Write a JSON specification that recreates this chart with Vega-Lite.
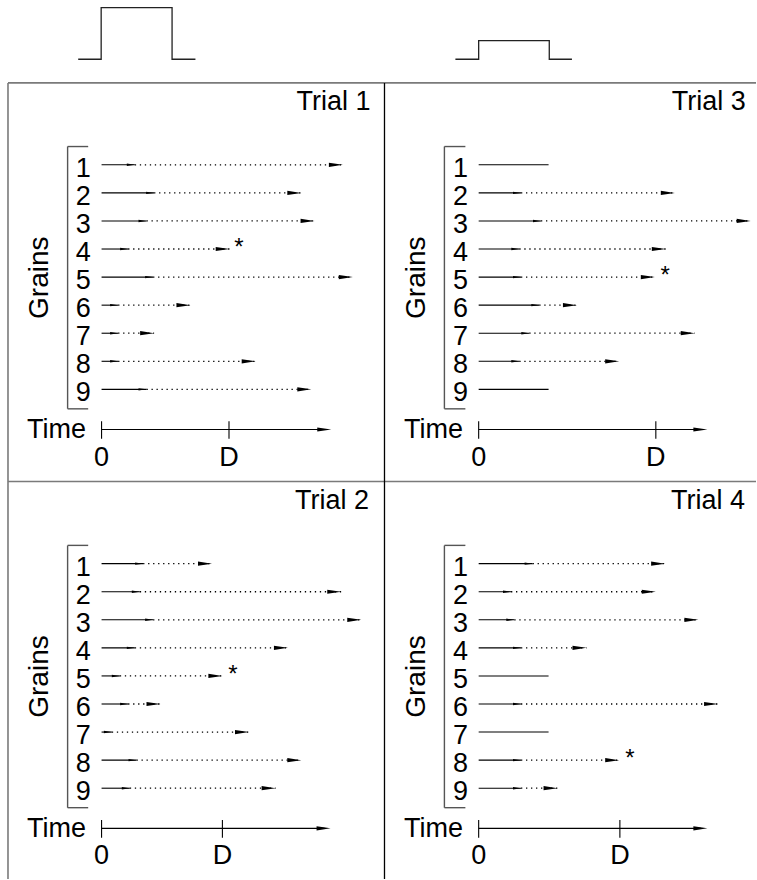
{
  "$schema": "https://vega.github.io/schema/vega-lite/v6.json",
  "width": 757,
  "height": 880,
  "padding": 0,
  "autosize": {"type": "fit", "contains": "padding"},
  "background": "white",
  "config": {"view": {"stroke": null}, "text": {"font": "Liberation Sans", "color": "black"}},
  "datasets": {
    "pulses": [
      {"p": "strong", "k": 1, "x": 78.3, "y": 59.3},
      {"p": "strong", "k": 2, "x": 101.3, "y": 59.3},
      {"p": "strong", "k": 3, "x": 101.3, "y": 7.7},
      {"p": "strong", "k": 4, "x": 172.3, "y": 7.7},
      {"p": "strong", "k": 5, "x": 172.3, "y": 59.3},
      {"p": "strong", "k": 6, "x": 195.7, "y": 59.3},
      {"p": "weak", "k": 1, "x": 456, "y": 59.3},
      {"p": "weak", "k": 2, "x": 479.3, "y": 59.3},
      {"p": "weak", "k": 3, "x": 479.3, "y": 40.7},
      {"p": "weak", "k": 4, "x": 550, "y": 40.7},
      {"p": "weak", "k": 5, "x": 550, "y": 59.3},
      {"p": "weak", "k": 6, "x": 572.7, "y": 59.3}
    ],
    "segs": [
      {"part": "frame", "x": 8, "x2": 757, "y": 83, "y2": 83},
      {"part": "frame", "x": 8, "x2": 8, "y": 83, "y2": 880},
      {"part": "frame", "x": 8, "x2": 757, "y": 482, "y2": 482},
      {"part": "divider", "x": 385, "x2": 385, "y": 83, "y2": 880},
      {"part": "bracket", "x": 67.7, "x2": 67.7, "y": 146.7, "y2": 409.3},
      {"part": "bracket", "x": 67.7, "x2": 88.3, "y": 146.7, "y2": 146.7},
      {"part": "bracket", "x": 67.7, "x2": 88.3, "y": 409.3, "y2": 409.3},
      {"part": "bracket", "x": 445, "x2": 445, "y": 146.7, "y2": 409.3},
      {"part": "bracket", "x": 445, "x2": 466, "y": 146.7, "y2": 146.7},
      {"part": "bracket", "x": 445, "x2": 466, "y": 409.3, "y2": 409.3},
      {"part": "bracket", "x": 67.7, "x2": 67.7, "y": 546, "y2": 808.6},
      {"part": "bracket", "x": 67.7, "x2": 88.3, "y": 546, "y2": 546},
      {"part": "bracket", "x": 67.7, "x2": 88.3, "y": 808.6, "y2": 808.6},
      {"part": "bracket", "x": 445, "x2": 445, "y": 546, "y2": 808.6},
      {"part": "bracket", "x": 445, "x2": 466, "y": 546, "y2": 546},
      {"part": "bracket", "x": 445, "x2": 466, "y": 808.6, "y2": 808.6},
      {"part": "axis", "x": 101.7, "x2": 325, "y": 430, "y2": 430},
      {"part": "axis", "x": 101.7, "x2": 101.7, "y": 421.7, "y2": 439.3},
      {"part": "axis", "x": 229.3, "x2": 229.3, "y": 421.7, "y2": 439.3},
      {"part": "axis", "x": 479.3, "x2": 702, "y": 430, "y2": 430},
      {"part": "axis", "x": 479.3, "x2": 479.3, "y": 421.7, "y2": 439.3},
      {"part": "axis", "x": 656.7, "x2": 656.7, "y": 421.7, "y2": 439.3},
      {"part": "axis", "x": 101.7, "x2": 325, "y": 829.3, "y2": 829.3},
      {"part": "axis", "x": 101.7, "x2": 101.7, "y": 821, "y2": 838.6},
      {"part": "axis", "x": 222.7, "x2": 222.7, "y": 821, "y2": 838.6},
      {"part": "axis", "x": 479.3, "x2": 702, "y": 829.3, "y2": 829.3},
      {"part": "axis", "x": 479.3, "x2": 479.3, "y": 821, "y2": 838.6},
      {"part": "axis", "x": 620.7, "x2": 620.7, "y": 821, "y2": 838.6}
    ],
    "axisTips": [
      {"trial": "Trial 1", "x": 331.7, "y": 430},
      {"trial": "Trial 3", "x": 708.3, "y": 430},
      {"trial": "Trial 2", "x": 331, "y": 829.3},
      {"trial": "Trial 4", "x": 708.3, "y": 829.3}
    ],
    "rows": [
      {"trial": "Trial 1", "grain": "1", "lx": 83.3, "x": 101.7, "x2": 135, "head": 135, "tip": 343.3, "y": 165},
      {"trial": "Trial 1", "grain": "2", "lx": 83.3, "x": 101.7, "x2": 154.3, "head": 154.3, "tip": 301.7, "y": 193.1},
      {"trial": "Trial 1", "grain": "3", "lx": 83.3, "x": 101.7, "x2": 146.7, "head": 146.7, "tip": 315, "y": 221.2},
      {"trial": "Trial 1", "grain": "4", "lx": 83.3, "x": 101.7, "x2": 128.3, "head": 128.3, "tip": 230, "y": 249.3},
      {"trial": "Trial 1", "grain": "5", "lx": 83.3, "x": 101.7, "x2": 153.3, "head": 153.3, "tip": 353.3, "y": 277.4},
      {"trial": "Trial 1", "grain": "6", "lx": 83.3, "x": 101.7, "x2": 118.3, "head": 118.3, "tip": 190.7, "y": 305.5},
      {"trial": "Trial 1", "grain": "7", "lx": 83.3, "x": 101.7, "x2": 118.3, "head": 118.3, "tip": 154.3, "y": 333.6},
      {"trial": "Trial 1", "grain": "8", "lx": 83.3, "x": 101.7, "x2": 118.3, "head": 118.3, "tip": 256, "y": 361.7},
      {"trial": "Trial 1", "grain": "9", "lx": 83.3, "x": 101.7, "x2": 146.7, "head": 146.7, "tip": 311.7, "y": 389.8},
      {"trial": "Trial 3", "grain": "1", "lx": 461, "x": 479.3, "x2": 549.3, "head": null, "tip": null, "y": 165},
      {"trial": "Trial 3", "grain": "2", "lx": 461, "x": 479.3, "x2": 521.7, "head": 521.7, "tip": 675.7, "y": 193.1},
      {"trial": "Trial 3", "grain": "3", "lx": 461, "x": 479.3, "x2": 541.7, "head": 541.7, "tip": 751.7, "y": 221.2},
      {"trial": "Trial 3", "grain": "4", "lx": 461, "x": 479.3, "x2": 520, "head": 520, "tip": 666.7, "y": 249.3},
      {"trial": "Trial 3", "grain": "5", "lx": 461, "x": 479.3, "x2": 521.7, "head": 521.7, "tip": 655.7, "y": 277.4},
      {"trial": "Trial 3", "grain": "6", "lx": 461, "x": 479.3, "x2": 540, "head": 540, "tip": 577.7, "y": 305.5},
      {"trial": "Trial 3", "grain": "7", "lx": 461, "x": 479.3, "x2": 530, "head": 530, "tip": 695.7, "y": 333.6},
      {"trial": "Trial 3", "grain": "8", "lx": 461, "x": 479.3, "x2": 520, "head": 520, "tip": 620, "y": 361.7},
      {"trial": "Trial 3", "grain": "9", "lx": 461, "x": 479.3, "x2": 549.3, "head": null, "tip": null, "y": 389.8},
      {"trial": "Trial 2", "grain": "1", "lx": 83.3, "x": 101.7, "x2": 143.3, "head": 143.3, "tip": 212.3, "y": 564.3},
      {"trial": "Trial 2", "grain": "2", "lx": 83.3, "x": 101.7, "x2": 140, "head": 140, "tip": 341.7, "y": 592.4},
      {"trial": "Trial 2", "grain": "3", "lx": 83.3, "x": 101.7, "x2": 153.3, "head": 153.3, "tip": 361.7, "y": 620.5},
      {"trial": "Trial 2", "grain": "4", "lx": 83.3, "x": 101.7, "x2": 135, "head": 135, "tip": 288.3, "y": 648.6},
      {"trial": "Trial 2", "grain": "5", "lx": 83.3, "x": 101.7, "x2": 120, "head": 120, "tip": 222.7, "y": 676.7},
      {"trial": "Trial 2", "grain": "6", "lx": 83.3, "x": 101.7, "x2": 128.3, "head": 128.3, "tip": 160.7, "y": 704.8},
      {"trial": "Trial 2", "grain": "7", "lx": 83.3, "x": 101.7, "x2": 112, "head": 112, "tip": 249.3, "y": 732.9},
      {"trial": "Trial 2", "grain": "8", "lx": 83.3, "x": 101.7, "x2": 136.7, "head": 136.7, "tip": 301.7, "y": 761},
      {"trial": "Trial 2", "grain": "9", "lx": 83.3, "x": 101.7, "x2": 130, "head": 130, "tip": 276, "y": 789.1},
      {"trial": "Trial 4", "grain": "1", "lx": 461, "x": 479.3, "x2": 533.3, "head": 533.3, "tip": 666, "y": 564.3},
      {"trial": "Trial 4", "grain": "2", "lx": 461, "x": 479.3, "x2": 511.7, "head": 511.7, "tip": 656.7, "y": 592.4},
      {"trial": "Trial 4", "grain": "3", "lx": 461, "x": 479.3, "x2": 515, "head": 515, "tip": 699.3, "y": 620.5},
      {"trial": "Trial 4", "grain": "4", "lx": 461, "x": 479.3, "x2": 521.7, "head": 521.7, "tip": 587.3, "y": 648.6},
      {"trial": "Trial 4", "grain": "5", "lx": 461, "x": 479.3, "x2": 549.3, "head": null, "tip": null, "y": 676.7},
      {"trial": "Trial 4", "grain": "6", "lx": 461, "x": 479.3, "x2": 521.7, "head": 521.7, "tip": 719, "y": 704.8},
      {"trial": "Trial 4", "grain": "7", "lx": 461, "x": 479.3, "x2": 549.3, "head": null, "tip": null, "y": 732.9},
      {"trial": "Trial 4", "grain": "8", "lx": 461, "x": 479.3, "x2": 521.7, "head": 521.7, "tip": 620, "y": 761},
      {"trial": "Trial 4", "grain": "9", "lx": 461, "x": 479.3, "x2": 521.7, "head": 521.7, "tip": 558.3, "y": 789.1}
    ],
    "labels": [
      {"role": "title", "text": "Trial 1", "x": 371, "y": 102.5},
      {"role": "title", "text": "Trial 3", "x": 746.7, "y": 102.5},
      {"role": "title", "text": "Trial 2", "x": 369.5, "y": 502},
      {"role": "title", "text": "Trial 4", "x": 746, "y": 502},
      {"role": "grains", "text": "Grains", "x": 40, "y": 278},
      {"role": "grains", "text": "Grains", "x": 417.5, "y": 278},
      {"role": "grains", "text": "Grains", "x": 40, "y": 677.3},
      {"role": "grains", "text": "Grains", "x": 417.5, "y": 677.3},
      {"role": "center", "text": "Time", "x": 56.5, "y": 430.5},
      {"role": "center", "text": "Time", "x": 434, "y": 430.5},
      {"role": "center", "text": "Time", "x": 56.5, "y": 829.8},
      {"role": "center", "text": "Time", "x": 434, "y": 829.8},
      {"role": "center", "text": "0", "x": 101.7, "y": 458.2},
      {"role": "center", "text": "D", "x": 229.3, "y": 458.2},
      {"role": "center", "text": "0", "x": 479.3, "y": 458.2},
      {"role": "center", "text": "D", "x": 656.7, "y": 458.2},
      {"role": "center", "text": "0", "x": 101.7, "y": 857.2},
      {"role": "center", "text": "D", "x": 222.7, "y": 857.2},
      {"role": "center", "text": "0", "x": 479.3, "y": 857.2},
      {"role": "center", "text": "D", "x": 620.7, "y": 857.2},
      {"role": "star", "text": "*", "x": 239.3, "y": 255.5},
      {"role": "star", "text": "*", "x": 666, "y": 283.2},
      {"role": "star", "text": "*", "x": 233.3, "y": 682.5},
      {"role": "star", "text": "*", "x": 630.7, "y": 767.2}
    ]
  },
  "encoding": {
    "x": {"field": "x", "type": "quantitative", "scale": {"domain": [0, 757], "nice": false, "zero": false}, "axis": null},
    "y": {"field": "y", "type": "quantitative", "scale": {"domain": [0, 880], "nice": false, "zero": false, "reverse": true}, "axis": null}
  },
  "layer": [
    {
      "data": {"name": "pulses"},
      "mark": {"type": "line", "color": "#222222", "strokeWidth": 1.3, "interpolate": "linear"},
      "encoding": {"detail": {"field": "p"}, "order": {"field": "k", "type": "quantitative"}}
    },
    {
      "data": {"name": "segs"},
      "transform": [{"filter": "datum.part === 'frame'"}],
      "mark": {"type": "rule", "color": "#7a7a7a", "strokeWidth": 1.6},
      "encoding": {"x2": {"field": "x2"}, "y2": {"field": "y2"}}
    },
    {
      "data": {"name": "segs"},
      "transform": [{"filter": "datum.part === 'divider'"}],
      "mark": {"type": "rule", "color": "black", "strokeWidth": 1.3},
      "encoding": {"x2": {"field": "x2"}, "y2": {"field": "y2"}}
    },
    {
      "data": {"name": "segs"},
      "transform": [{"filter": "datum.part === 'bracket'"}],
      "mark": {"type": "rule", "color": "#555555", "strokeWidth": 1.4},
      "encoding": {"x2": {"field": "x2"}, "y2": {"field": "y2"}}
    },
    {
      "data": {"name": "segs"},
      "transform": [{"filter": "datum.part === 'axis'"}],
      "mark": {"type": "rule", "color": "black", "strokeWidth": 1.1},
      "encoding": {"x2": {"field": "x2"}, "y2": {"field": "y2"}}
    },
    {
      "data": {"name": "axisTips"},
      "mark": {"type": "point", "shape": "M-2,-0.3L0,0L-2,0.3Z", "filled": true, "color": "black", "size": 196, "opacity": 1}
    },
    {
      "data": {"name": "rows"},
      "mark": {"type": "rule", "color": "black", "strokeWidth": 1.1},
      "encoding": {"x2": {"field": "x2"}}
    },
    {
      "data": {"name": "rows"},
      "transform": [{"filter": "datum.tip != null"}],
      "mark": {"type": "rule", "color": "black", "strokeWidth": 1.3, "strokeDash": [1.3, 3.7]},
      "encoding": {"x": {"field": "head", "type": "quantitative"}, "x2": {"field": "tip"}}
    },
    {
      "data": {"name": "rows"},
      "transform": [{"filter": "datum.head != null"}],
      "mark": {"type": "point", "shape": "M-2,-0.3L0,0L-2,0.3Z", "filled": true, "color": "black", "size": 64, "opacity": 1},
      "encoding": {"x": {"field": "head", "type": "quantitative"}}
    },
    {
      "data": {"name": "rows"},
      "transform": [{"filter": "datum.tip != null"}],
      "mark": {"type": "point", "shape": "M-2,-0.3L0,0L-2,0.3Z", "filled": true, "color": "black", "size": 196, "opacity": 1},
      "encoding": {"x": {"field": "tip", "type": "quantitative"}}
    },
    {
      "data": {"name": "rows"},
      "mark": {"type": "text", "fontSize": 27, "align": "center", "baseline": "middle", "dy": 4},
      "encoding": {"x": {"field": "lx", "type": "quantitative"}, "text": {"field": "grain"}}
    },
    {
      "data": {"name": "labels"},
      "transform": [{"filter": "datum.role === 'title'"}],
      "mark": {"type": "text", "fontSize": 27, "align": "right", "baseline": "middle"},
      "encoding": {"text": {"field": "text"}}
    },
    {
      "data": {"name": "labels"},
      "transform": [{"filter": "datum.role === 'center'"}],
      "mark": {"type": "text", "fontSize": 27, "align": "center", "baseline": "middle"},
      "encoding": {"text": {"field": "text"}}
    },
    {
      "data": {"name": "labels"},
      "transform": [{"filter": "datum.role === 'grains'"}],
      "mark": {"type": "text", "fontSize": 28, "align": "center", "baseline": "middle", "angle": 270},
      "encoding": {"text": {"field": "text"}}
    },
    {
      "data": {"name": "labels"},
      "transform": [{"filter": "datum.role === 'star'"}],
      "mark": {"type": "text", "fontSize": 24, "align": "center", "baseline": "alphabetic"},
      "encoding": {"text": {"field": "text"}}
    }
  ]
}
